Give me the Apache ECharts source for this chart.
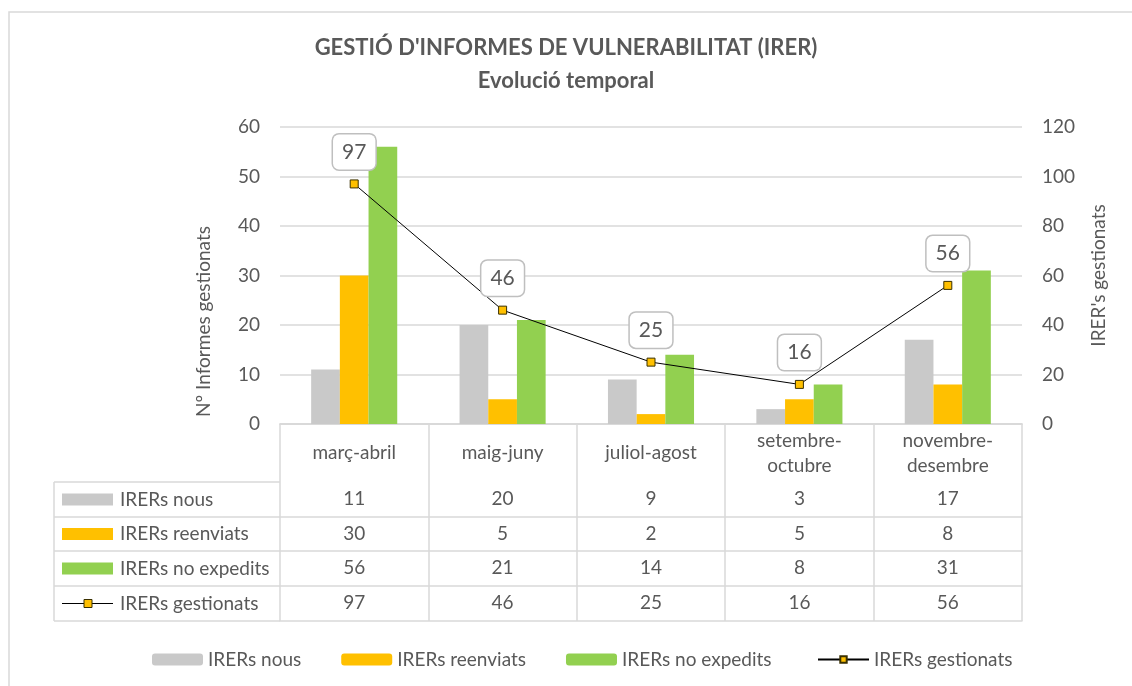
<!DOCTYPE html>
<html>
<head>
<meta charset="utf-8">
<script src="https://cdn.jsdelivr.net/npm/echarts@6/dist/echarts.min.js"></script>
<style>
html,body{margin:0;padding:0;background:#fff;}
#chart{width:1132px;height:686px;}
</style>
</head>
<body>
<div id="chart"></div>
<script>
const categories = ['març-abril', 'maig-juny', 'juliol-agost', 'setembre-\noctubre', 'novembre-\ndesembre'];
const seriesNames = ['IRERs nous', 'IRERs reenviats', 'IRERs no expedits', 'IRERs gestionats'];
const nous = [11, 20, 9, 3, 17];
const reenviats = [30, 5, 2, 5, 8];
const noExpedits = [56, 21, 14, 8, 31];
const gestionats = [97, 46, 25, 16, 56];
const leftAxis = { min: 0, max: 60, interval: 10 };
const rightAxis = { min: 0, max: 120, interval: 20 };

const FONT = 'Lato, "Open Sans", sans-serif';
const FS = 19;
const TXT = '#595959';
const LINE = '#d9d9d9';
const colors = ['#c9c9c9', '#ffc000', '#92d050'];

const rows = [nous, reenviats, noExpedits, gestionats];
const rowOffsets = [58, 93, 127, 162];
const tableBottomOffset = 197;

const xAxes = [{
  type: 'category', gridIndex: 0, data: categories, position: 'bottom',
  axisLine: { show: true, lineStyle: { color: LINE, width: 1.5 } },
  axisTick: { show: true, length: tableBottomOffset, lineStyle: { color: LINE, width: 1.5 } },
  axisLabel: { margin: 29, verticalAlign: 'middle', fontFamily: FONT, fontSize: FS, color: TXT, lineHeight: 25, interval: 0 },
  splitLine: { show: false }
}];
rows.forEach(function (r, k) {
  xAxes.push({
    type: 'category', gridIndex: 0, data: categories, position: 'bottom', offset: rowOffsets[k],
    axisLine: { show: true, lineStyle: { color: LINE, width: 1.5 } },
    axisTick: { show: false },
    axisLabel: { margin: 17, verticalAlign: 'middle', fontFamily: FONT, fontSize: FS, color: TXT, interval: 0,
      formatter: function (v, i) { return String(r[i]); } },
    splitLine: { show: false }
  });
});
xAxes.push({
  type: 'category', gridIndex: 0, data: categories, position: 'bottom', offset: tableBottomOffset,
  axisLine: { show: true, lineStyle: { color: LINE, width: 1.5 } },
  axisTick: { show: false }, axisLabel: { show: false }, splitLine: { show: false }
});

const chart = echarts.init(document.getElementById('chart'), null, { renderer: 'canvas' });

const titleStyle = { fontFamily: FONT, fontSize: 22, fontWeight: 'bold', color: TXT };
const legendText = { fontFamily: FONT, fontSize: FS, color: TXT };

const option = {
  backgroundColor: '#ffffff',
  animation: false,
  title: [
    { text: "GESTIÓ D'INFORMES DE VULNERABILITAT (IRER)", left: 'center', top: 37, padding: 0, textStyle: titleStyle },
    { text: 'Evolució temporal', left: 'center', top: 70, padding: 0, textStyle: titleStyle }
  ],
  grid: { left: 280, right: 110, top: 127, bottom: 262, containLabel: false },
  legend: [{
    top: 645, left: 147,
    itemWidth: 51, itemHeight: 12, itemGap: 40,
    textStyle: legendText,
    data: seriesNames.slice(0, 3)
  }, {
    top: 645, left: 812,
    itemWidth: 51, itemHeight: 8, itemGap: 40,
    textStyle: legendText,
    data: seriesNames.slice(3)
  }],
  xAxis: xAxes,
  yAxis: [{
    type: 'value', min: leftAxis.min, max: leftAxis.max, interval: leftAxis.interval,
    name: 'Nº Informes gestionats', nameLocation: 'middle', nameGap: 67,
    nameTextStyle: { fontFamily: FONT, fontSize: FS, color: TXT, padding: [0, 92, 0, 0] },
    axisLine: { show: false }, axisTick: { show: false },
    axisLabel: { fontFamily: FONT, fontSize: FS, color: TXT, margin: 20 },
    splitLine: { lineStyle: { color: LINE, width: 1.5 } }
  }, {
    type: 'value', min: rightAxis.min, max: rightAxis.max, interval: rightAxis.interval,
    name: "IRER's gestionats", nameLocation: 'middle', nameGap: 67,
    nameTextStyle: { fontFamily: FONT, fontSize: FS, color: TXT },
    axisLine: { show: false }, axisTick: { show: false },
    axisLabel: { fontFamily: FONT, fontSize: FS, color: TXT, margin: 20 },
    splitLine: { show: false }
  }],
  series: [
    { name: seriesNames[0], type: 'bar', data: nous, barGap: '0%', barCategoryGap: '42%', itemStyle: { color: colors[0] } },
    { name: seriesNames[1], type: 'bar', data: reenviats, itemStyle: { color: colors[1] } },
    { name: seriesNames[2], type: 'bar', data: noExpedits, itemStyle: { color: colors[2] } },
    {
      name: seriesNames[3], type: 'line', yAxisIndex: 1, data: gestionats,
      symbol: 'rect', symbolSize: 8,
      lineStyle: { color: '#000000', width: 1 },
      itemStyle: { color: '#ffc000', borderColor: '#3a3000', borderWidth: 1 },
      label: {
        show: true, position: 'top', distance: 10,
        fontFamily: FONT, fontSize: 21, color: TXT,
        backgroundColor: '#ffffff', borderColor: '#bfbfbf', borderWidth: 1.5, borderRadius: 6,
        padding: [7, 9, 7, 9]
      },
      z: 5
    }
  ]
};
chart.setOption(option);

// Left column of the data table (series keys)
const rowTops = [482, 517, 551, 586, 621];
const colLeft = 54, colRight = 280;
const g = [];
g.push({ type: 'rect', shape: { x: 9, y: 12, width: 1140, height: 700 }, style: { fill: null, stroke: LINE, lineWidth: 1.5 }, silent: true });
rowTops.forEach(function (y) {
  g.push({ type: 'line', shape: { x1: colLeft, y1: y, x2: colRight, y2: y }, style: { stroke: LINE, lineWidth: 1.5 } });
});
g.push({ type: 'line', shape: { x1: colLeft, y1: rowTops[0], x2: colLeft, y2: rowTops[4] }, style: { stroke: LINE, lineWidth: 1.5 } });
for (let k = 0; k < 4; k++) {
  const cy = (rowTops[k] + rowTops[k + 1]) / 2;
  if (k < 3) {
    g.push({ type: 'rect', shape: { x: 62, y: cy - 6, width: 51, height: 12 }, style: { fill: colors[k] } });
  } else {
    g.push({ type: 'line', shape: { x1: 62, y1: cy, x2: 113, y2: cy }, style: { stroke: '#000', lineWidth: 1 } });
    g.push({ type: 'rect', shape: { x: 84, y: cy - 4, width: 8, height: 8 }, style: { fill: '#ffc000', stroke: '#3a3000', lineWidth: 1 } });
  }
  g.push({ type: 'text', x: 120, y: cy, style: { text: seriesNames[k], fontFamily: FONT, fontSize: FS, fill: TXT, verticalAlign: 'middle', align: 'left' } });
}
chart.setOption({ graphic: g });
</script>
</body>
</html>
